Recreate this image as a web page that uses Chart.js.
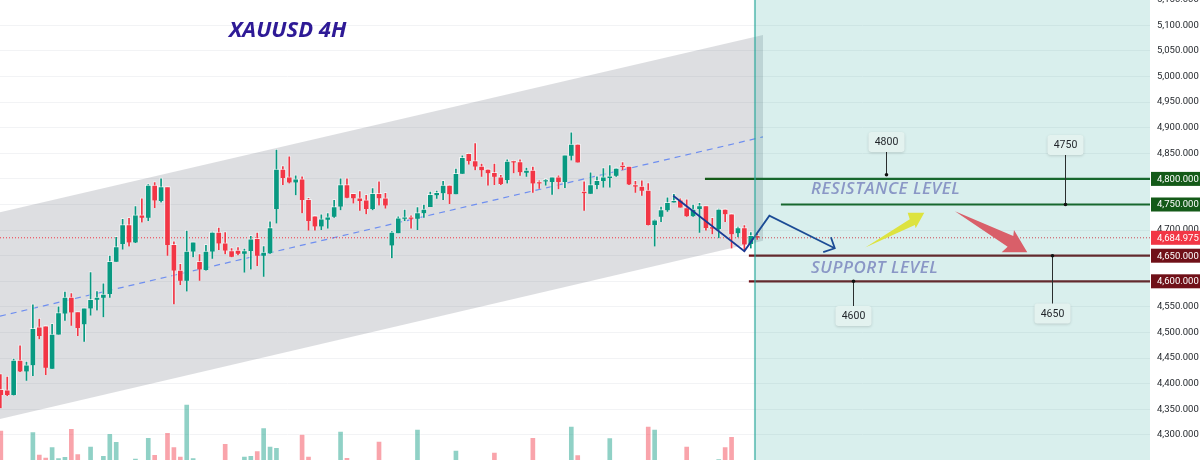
<!DOCTYPE html>
<html><head><meta charset="utf-8">
<script src="https://cdn.jsdelivr.net/npm/chart.js@4"></script>
<style>html,body{margin:0;padding:0;background:#fff;overflow:hidden}canvas{display:block}</style>
</head><body><canvas id="c" width="1200" height="460"></canvas>
<script>
const opens=[4389,4388,4378,4446,4424,4436,4511,4513,4429,4496,
4537,4569,4541,4516,4547,4564,4568,4575,4638,4673,
4711,4676,4730,4724,4788,4757,4785,4672,4622,4601,
4658,4639,4622,4658,4696,4675,4660,4661,4654,4659,
4684,4650,4655,4741,4819,4804,4793,4800,4760,4728,
4707,4720,4726,4746,4789,4772,4763,4759,4741,4772,
4763,4670,4694,4722,4724,4722,4733,4745,4768,4772,
4788,4770,4810,4850,4836,4825,4819,4813,4804,4798,
4834,4834,4812,4817,4793,4795,4794,4804,4794,4845,
4868,4776,4771,4788,4796,4802,4806,4825,4825,4789,
4786,4778,4710,4726,4739,4754,4759,4744,4727,4741,
4748,4707,4702,4741,4732,4694,4705,4673,4690];
const highs=[4420,4415,4450,4476,4444,4556,4528,4514,4518,4552,
4581,4578,4541,4548,4619,4582,4597,4651,4688,4723,
4725,4748,4763,4791,4795,4802,4785,4679,4635,4700,
4677,4654,4672,4698,4706,4697,4666,4668,4665,4690,
4696,4670,4718,4858,4826,4845,4808,4806,4764,4729,
4732,4734,4760,4802,4802,4772,4777,4770,4783,4796,
4774,4699,4728,4741,4730,4746,4751,4776,4778,4797,
4789,4821,4847,4851,4871,4831,4820,4831,4809,4839,
4837,4839,4823,4825,4798,4801,4804,4808,4847,4892,
4869,4796,4814,4806,4822,4828,4822,4834,4825,4797,
4798,4793,4722,4747,4765,4772,4763,4761,4751,4754,
4748,4725,4743,4742,4733,4708,4711,4697,4694];
const lows=[4352,4376,4377,4423,4406,4415,4487,4417,4429,4496,
4523,4513,4493,4482,4533,4543,4530,4568,4638,4662,
4668,4675,4715,4718,4743,4754,4650,4555,4593,4580,
4647,4601,4621,4644,4661,4653,4647,4651,4617,4623,
4630,4609,4654,4713,4788,4791,4768,4733,4699,4699,
4700,4703,4724,4739,4762,4752,4738,4731,4739,4748,
4742,4645,4694,4718,4703,4700,4724,4745,4761,4759,
4751,4770,4810,4828,4817,4804,4787,4788,4788,4791,
4811,4806,4804,4773,4781,4787,4769,4780,4782,4836,
4832,4738,4771,4780,4783,4783,4804,4817,4788,4773,
4767,4709,4668,4716,4736,4754,4744,4726,4726,4695,
4699,4692,4684,4716,4664,4686,4658,4664,4681];
const closes=[4378,4378,4446,4424,4437,4508,4493,4431,4497,4539,
4569,4539,4509,4548,4565,4569,4575,4639,4668,4711,
4676,4730,4724,4788,4758,4785,4671,4621,4601,4659,
4677,4623,4659,4696,4674,4660,4648,4654,4660,4683,
4650,4657,4705,4819,4802,4793,4800,4759,4718,4707,
4722,4726,4746,4789,4763,4762,4757,4741,4772,4762,
4748,4696,4724,4724,4722,4734,4741,4770,4774,4788,
4770,4811,4842,4835,4824,4817,4811,4804,4790,4835,
4832,4813,4817,4791,4791,4797,4804,4794,4847,4868,
4832,4772,4789,4797,4804,4806,4821,4823,4789,4785,
4777,4710,4720,4740,4754,4756,4744,4727,4741,4748,
4704,4703,4741,4731,4692,4705,4672,4690,4685];
const volumeBars=[0,5,6,7,8,9,10,11,12,14,16,17,18,21,23,24,26,27,28,29,30,35,38,39,40,41,42,43,47,48,53,54,59,65,71,77,83,89,90,95,101,102,107,112,113,114];
const volumes=[90,85,18,9,40,7,11,95,19,42,14,80,56,5,68,17,83,40,12,168,7,50,12,14,28,97,42,38,78,12,87,8,57,93,30,24,68,102,16,67,102,93,42,3,40,71];
const priceTicks=[4300,4350,4400,4450,4500,4550,4600,4650,4700,4750,4800,4850,4900,4950,5000,5050,5100,5150];
const lastPrice=4684.975;
const channelX=[-0.13,118.9];
const channelTop=[4735,5081];
const channelBottom=[4331,4679];
const channelMid=[4532,4882];
const paneStart=117.65;
const levelPrices=[4800,4750,4650,4600];
const levelStarts=[109.85,121.7,116.7,116.7];
const zigzagX=[104.9,116.0,119.9,130.1];
const zigzagY=[4767,4659,4728,4664.5];
const headX=[129.5,130.1,128.3];
const headY=[4686,4664.5,4657];
const yellowX=[134.86,141.8,141.47,144.06,142.72,142.6];
const yellowY=[4666,4721,4734,4734,4703.5,4710];
const redX=[148.85,157.95,158.06,160.13,156.14,157.07];
const redY=[4737,4688.5,4700,4656.7,4656.7,4667.6];
const calloutText=["4800","4750","4600","4650"];
const calloutX=[138.1,166.0,133.0,164.0];
const calloutAnchor=[4808,4750,4600,4650];
const calloutBox=[4872,4866,4532,4537];

const XMIN=-0.13, XMAX=179.28, YMIN=4251, YMAX=5149.4;
const UP='#089981', DOWN='#f23645';
const isUp=i=>closes[i]>=opens[i];
const line=(xs,ys,o)=>Object.assign({type:'line',data:xs.map((x,i)=>({x,y:ys[i]})),pointRadius:0,borderWidth:1,fill:false,tension:0,yAxisID:'y',xAxisID:'x'},o);
const datasets=[
 line(channelX,channelTop,{order:20,borderWidth:0,borderColor:'transparent',backgroundColor:'rgba(120,123,134,0.25)',fill:'+1'}),
 line(channelX,channelBottom,{order:21,borderWidth:0,borderColor:'transparent'}),
 line(channelX,channelMid,{order:19,borderColor:'#6f8ff0',borderWidth:1.2,borderDash:[6,5]}),
 {type:'bar',yAxisID:'vol',order:18,grouped:false,barThickness:6,borderWidth:1,
  data:volumeBars.map((x,i)=>({x,y:volumes[i]})),
  backgroundColor:c=>isUp(c.raw.x)?'rgba(8,153,129,0.45)':'rgba(242,54,69,0.45)',
  borderColor:'rgba(255,255,255,0.55)'},
 line([XMIN,XMAX],[lastPrice,lastPrice],{order:17,borderColor:'#f23645',borderDash:[1,2]}),
 {type:'bar',yAxisID:'y',order:11,grouped:false,barThickness:3,borderWidth:1,
  data:opens.map((_,i)=>({x:i,y:[lows[i],highs[i]]})),
  backgroundColor:c=>isUp(c.dataIndex)?UP:DOWN,
  borderColor:'rgba(255,255,255,0.55)'},
 {type:'bar',yAxisID:'y',order:10,grouped:false,barThickness:6,borderWidth:1,minBarLength:2,
  data:opens.map((_,i)=>({x:i,y:[Math.min(opens[i],closes[i]),Math.max(opens[i],closes[i])]})),
  backgroundColor:c=>isUp(c.dataIndex)?UP:DOWN,
  borderColor:'rgba(255,255,255,0.6)'},
 line(zigzagX,zigzagY,{order:5,borderColor:'#1a3a95',borderWidth:1.8}),
 line(headX,headY,{order:5,borderColor:'#1a3a95',borderWidth:1.8}),
 ...levelPrices.map((p,i)=>line([levelStarts[i],XMAX],[p,p],{order:4,borderColor:i<2?'#145a18':'#701018',borderWidth:2.2})),
 line([paneStart,XMAX],[YMAX,YMAX],{order:3,borderWidth:0,borderColor:'transparent',backgroundColor:'rgba(38,166,154,0.175)',fill:'start'}),
 line([paneStart,paneStart],[YMIN,YMAX],{order:2,borderColor:'rgba(38,166,154,0.6)',borderWidth:2})
];
const fmt=v=>v.toLocaleString('en-US',{minimumFractionDigits:3,maximumFractionDigits:3});
const overlay={id:'overlay',
 afterDatasetsDraw(ch){
  const {ctx,scales:{x,y}}=ch;
  const poly=(xs,ys,col)=>{ctx.beginPath();xs.forEach((v,i)=>{const X=x.getPixelForValue(v),Y=y.getPixelForValue(ys[i]);i?ctx.lineTo(X,Y):ctx.moveTo(X,Y)});ctx.closePath();ctx.fillStyle=col;ctx.fill()};
  ctx.save();
  poly(yellowX,yellowY,'#dde33f');
  poly(redX,redY,'#d95f69');
  ctx.textBaseline='alphabetic';ctx.textAlign='left';
  ctx.fillStyle='#8a97c6';ctx.font='italic 600 17px "Open Sans"';
  ctx.letterSpacing='0.5px';
  ctx.fillText('RESISTANCE LEVEL',811,194);
  ctx.fillText('SUPPORT LEVEL',811,273);
  ctx.letterSpacing='0px';
  ctx.fillStyle='#2e1a96';ctx.font='italic bold 22px "Open Sans"';
  ctx.fillText('XAUUSD 4H',229,37);
  calloutText.forEach((t,i)=>{
   const X=Math.round(x.getPixelForValue(calloutX[i]))+0.5,A=y.getPixelForValue(calloutAnchor[i]),B=y.getPixelForValue(calloutBox[i]);
   ctx.strokeStyle='#2a2e2e';ctx.lineWidth=1;ctx.beginPath();ctx.moveTo(X,A);ctx.lineTo(X,B);ctx.stroke();
   ctx.fillStyle='#111';ctx.beginPath();ctx.arc(X,A,1.8,0,7);ctx.fill();
   ctx.save();ctx.shadowColor='rgba(0,0,0,0.15)';ctx.shadowBlur=3;ctx.shadowOffsetY=1;
   ctx.fillStyle='#e3f2ef';ctx.beginPath();ctx.roundRect(X-18,B-10,36,20,3);ctx.fill();ctx.restore();
   ctx.fillStyle='#1f2328';ctx.font='10.5px Roboto';ctx.textAlign='center';ctx.textBaseline='middle';
   ctx.fillText(t,X,B+0.5);
  });
  ctx.restore();
 },
 afterDraw(ch){
  const {ctx,scales:{y}}=ch;
  ctx.save();
  const tag=(p,col)=>{const Y=y.getPixelForValue(p);ctx.fillStyle=col;ctx.fillRect(1151,Y-7,49,14);
   ctx.fillStyle='#fff';ctx.font='9.5px Roboto';ctx.textAlign='left';ctx.textBaseline='middle';ctx.fillText(fmt(p),1157,Y+0.5)};
  levelPrices.forEach((p,i)=>tag(p,i<2?'#145a18':'#701018'));
  tag(lastPrice,'#f23645');
  ctx.restore();
 }};
new Chart(document.getElementById('c'),{
 type:'bar',
 data:{datasets},
 plugins:[overlay],
 options:{responsive:false,animation:false,devicePixelRatio:1,
  layout:{padding:0},
  plugins:{legend:{display:false},tooltip:{enabled:false},title:{display:false}},
  scales:{
   x:{type:'linear',min:XMIN,max:XMAX,offset:false,display:false,grid:{display:false}},
   vol:{type:'linear',min:0,max:1380,display:false,grid:{display:false}},
   y:{type:'linear',position:'right',min:YMIN,max:YMAX,
    afterFit(s){s.width=50;s.paddingTop=0;s.paddingBottom=0},
    afterBuildTicks(s){s.ticks=priceTicks.map(value=>({value}))},
    border:{display:false},
    grid:{color:'#f2f3f5',lineWidth:1,drawTicks:false},
    ticks:{autoSkip:false,padding:7,color:'#1f2328',font:{family:'Roboto',size:9.5},maxRotation:0,callback:v=>fmt(v)}
   }
  }
 }
});
</script></body></html>
